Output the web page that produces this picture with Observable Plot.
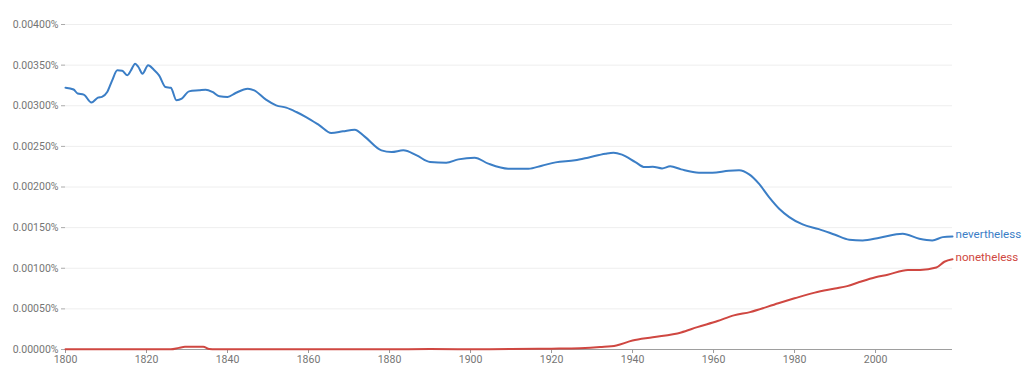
<!DOCTYPE html>
<html>
<head>
<meta charset="utf-8">
<script src="https://cdn.jsdelivr.net/npm/d3@7"></script>
<script src="https://cdn.jsdelivr.net/npm/@observablehq/plot@0.6"></script>
<style>
  html, body { margin: 0; padding: 0; background: #fff; }
  #chart { width: 1024px; height: 374px; }
  svg { font-family: Roboto, "Noto Sans", sans-serif; }
</style>
</head>
<body>
<div id="chart"></div>
<script>
// Series names
const seriesNames = ["nevertheless", "nonetheless"];
const seriesColors = ["#3b7ec6", "#cf4741"];

// "nevertheless" (percent)
const neverYears = [1800,1802,1803,1804.5,1806.4,1808,1809,1810.3,1811.5,1812.8,1814,1815.3,1816.1,1817.2,1818,1819,1820.4,1821.8,1823.1,1824.7,1826,1827.4,1828.7,1830.5,1833,1834.6,1836.3,1838,1840,1842,1845,1846.6,1849.5,1852,1854.5,1857,1859.4,1862.7,1865.6,1868.5,1871.4,1873.8,1878,1880.5,1883.4,1886.7,1890,1894,1897,1901,1904.4,1909.3,1914.3,1917.6,1921,1925.8,1929,1933.3,1935.3,1937.4,1940.7,1943,1945,1947.3,1949.3,1952,1956.4,1959.7,1963.8,1966.3,1968.8,1971.2,1973.7,1976.2,1978.7,1982,1986,1990,1993.5,1996.8,2001,2006.7,2010.8,2014,2016.6,2019];
const neverValues = [0.003223,0.00320,0.00315,0.003137,0.00304,0.00310,0.00311,0.00317,0.00331,0.003436,0.00343,0.003374,0.00343,0.003518,0.003477,0.003395,0.003498,0.003444,0.003374,0.00323,0.003222,0.003067,0.003087,0.003177,0.00319,0.003198,0.00317,0.003116,0.003107,0.003157,0.00321,0.00319,0.003075,0.003005,0.002977,0.002923,0.002861,0.002759,0.002664,0.002685,0.002706,0.002623,0.002451,0.00243,0.002451,0.002389,0.002307,0.002299,0.00234,0.002361,0.002287,0.002225,0.002225,0.002262,0.002303,0.002328,0.002361,0.00241,0.002422,0.002398,0.002307,0.002245,0.00225,0.002229,0.002254,0.002217,0.002176,0.002176,0.0022,0.002205,0.002155,0.002041,0.001876,0.001733,0.00163,0.001539,0.001482,0.001412,0.001351,0.001342,0.001375,0.001425,0.001363,0.001342,0.001383,0.001392];

// "nonetheless" (percent)
const noneYears = [1800,1810,1826,1828,1829.5,1834,1835.5,1837,1860,1880,1890,1900,1910,1920,1927,1932,1936,1940,1945,1952,1956,1961,1965,1969,1976,1980,1985,1990,1993,1996,2000,2003,2008,2011,2015,2017,2019];
const noneValues = [0.000002,0.000002,0.000002,0.00002,0.000033,0.000033,0.000005,0.000002,0.000002,0.000003,0.000006,0.000004,0.000005,0.00001,0.000016,0.00003,0.00005,0.00011,0.00015,0.00021,0.000275,0.00035,0.00042,0.00046,0.00057,0.00063,0.0007,0.00075,0.00078,0.00083,0.00089,0.00092,0.00098,0.00098,0.00101,0.00108,0.00111];

// Axis ticks
const yTicks = [0, 0.0005, 0.001, 0.0015, 0.002, 0.0025, 0.003, 0.0035, 0.004];
const xTicks = [1800, 1820, 1840, 1860, 1880, 1900, 1920, 1940, 1960, 1980, 2000];

const rows = [
  ...neverYears.map((y, i) => ({series: seriesNames[0], year: y, value: neverValues[i]})),
  ...noneYears.map((y, i) => ({series: seriesNames[1], year: y, value: noneValues[i]}))
];
const lastRows = seriesNames.map((s, k) => {
  const ys = k === 0 ? neverYears : noneYears;
  const vs = k === 0 ? neverValues : noneValues;
  return {series: s, year: ys[ys.length - 1], value: vs[vs.length - 1]};
});

const chart = Plot.plot({
  width: 1024,
  height: 374,
  marginLeft: 65,
  marginRight: 72,
  marginTop: 24,
  marginBottom: 25,
  style: {fontFamily: "Roboto, 'Noto Sans', sans-serif", background: "#fff"},
  x: {domain: [1800, 2019]},
  y: {domain: [0, 0.004]},
  color: {domain: seriesNames, range: seriesColors},
  marks: [
    Plot.gridY(yTicks, {stroke: "#eeeeee", strokeOpacity: 1}),
    Plot.axisY(yTicks, {
      tickSize: 4, tickPadding: 3, fontSize: 10.5, color: "#757575", stroke: "#aaa",
      tickFormat: d => d.toFixed(5) + "%", label: null
    }),
    Plot.axisX(xTicks, {
      tickSize: 4, tickPadding: 2, fontSize: 10.5, color: "#757575", stroke: "#999",
      tickFormat: d => String(d), label: null
    }),
    Plot.ruleY([0], {stroke: "#9e9e9e", strokeWidth: 1}),
    Plot.line(rows, {x: "year", y: "value", stroke: "series", z: "series", strokeWidth: 2, curve: "monotone-x"}),
    Plot.text(lastRows, {
      x: "year", y: "value", text: "series", fill: "series",
      textAnchor: "start", dx: 3, dy: -2, fontSize: 11.6
    })
  ]
});
document.getElementById("chart").appendChild(chart);
</script>
</body>
</html>
